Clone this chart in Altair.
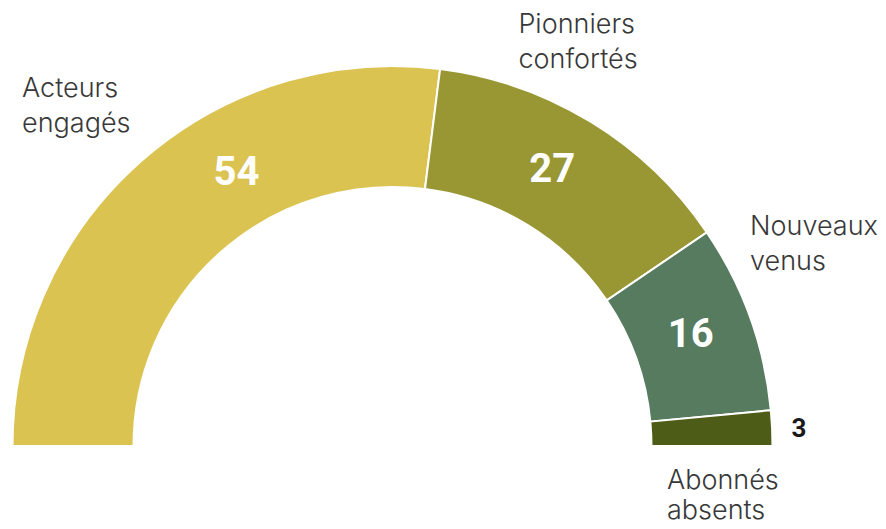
import math
import altair as alt
import pandas as pd

categories = ["Acteurs engagés", "Pionniers confortés", "Nouveaux venus", "Abonnés absents"]
label_text = ["Acteurs\nengagés", "Pionniers\nconfortés", "Nouveaux\nvenus", "Abonnés\nabsents"]
values = [54, 27, 16, 3]
colors = ["#DBC352", "#989733", "#567B5F", "#4D5D17"]

df = pd.DataFrame({
    "cat": categories,
    "label": label_text,
    "value": values,
    "order": list(range(len(categories))),
})
total = sum(values)

theta_scale = alt.Scale(domain=[0, total], range=[-math.pi / 2, math.pi / 2])
CX, CY = 392.5, 446

base = alt.Chart(df).transform_window(
    cum="sum(value)", sort=[alt.SortField("order")], frame=[None, 0]
).transform_calculate(
    start="datum.cum - datum.value",
    mid="datum.cum - datum.value / 2",
)

arcs = base.mark_arc(innerRadius=259, outerRadius=380, stroke="white", strokeWidth=2).encode(
    theta=alt.Theta("start:Q", scale=theta_scale),
    theta2="cum:Q",
    color=alt.Color("cat:N", scale=alt.Scale(domain=categories, range=colors), legend=None),
    x=alt.value(CX),
    y=alt.value(CY),
)

def num_label(cat, radius, dx, dy, color, size):
    return base.transform_filter(alt.datum.cat == cat).mark_text(
        radius=radius, dx=dx, dy=dy, align="center", baseline="middle",
        font="Roboto", fontWeight="bold", fontSize=size, color=color,
    ).encode(
        theta=alt.Theta("mid:Q", scale=theta_scale),
        text=alt.Text("value:Q"),
        x=alt.value(CX),
        y=alt.value(CY),
    )

def cat_label(cat, radius, dx, dy, line_height=35):
    return base.transform_filter(alt.datum.cat == cat).mark_text(
        radius=radius, dx=dx, dy=dy, align="left", baseline="alphabetic",
        font="Inter", fontWeight=300, fontSize=27, color="#383838",
        lineBreak="\n", lineHeight=line_height,
    ).encode(
        theta=alt.Theta("mid:Q", scale=theta_scale),
        text=alt.Text("label:N"),
        x=alt.value(CX),
        y=alt.value(CY),
    )

layers = [
    arcs,
    num_label(categories[0], 319, 55, -34, "white", 40),
    num_label(categories[1], 319, -7, -4, "white", 40),
    num_label(categories[2], 319, -2, -3, "white", 40),
    num_label(categories[3], 407, 0, 2, "#1a1a1a", 26),
    cat_label(categories[0], 440, -79.5, -19),
    cat_label(categories[1], 440, -104, -38),
    cat_label(categories[2], 440, -56.5, -62),
    cat_label(categories[3], 440, -165, 64, line_height=30),
]

chart = alt.layer(*layers).properties(
    width=886, height=529, autosize="none", padding=0,
).configure_view(stroke=None)

chart.save("out.html", embed_options={"renderer": "svg", "actions": False})
